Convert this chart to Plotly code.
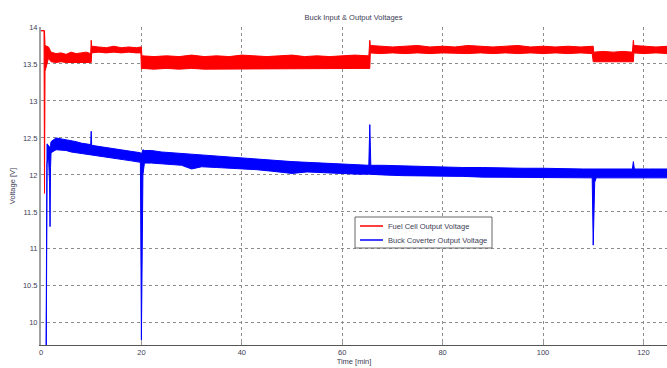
import plotly.graph_objects as go

# ---------------- data ----------------
red_time = [0, 0.6, 0.7, 0.8, 1.5, 2.0, 3, 4, 5, 6, 7, 8, 9, 9.9,
            10.0, 10.1, 11.5, 13, 14.5, 16, 17.5, 19, 19.9,
            20.0, 20.1, 22.5, 25, 27.5, 30, 32.5, 35, 37.5, 40, 42.5, 45, 47.5, 50, 52.5, 55, 57.5, 60, 62.5, 65.3,
            65.5, 65.6, 67.5, 70, 72.5, 75, 77.5, 80, 82.5, 85, 87.5, 90, 92.5, 95, 97.5, 100, 102.5, 105, 107.5, 109.8,
            110.0, 110.1, 112, 114, 116, 117.8,
            118.0, 118.1, 120, 122.5, 125]
red_upper = [13.95, 13.95, 13.95, 13.75, 13.73, 13.66, 13.64, 13.65, 13.63, 13.66, 13.64, 13.65, 13.66, 13.64,
             13.82, 13.74, 13.73, 13.72, 13.74, 13.72, 13.73, 13.72, 13.73,
             13.73, 13.61, 13.60, 13.61, 13.60, 13.62, 13.60, 13.61, 13.60, 13.62, 13.61, 13.60, 13.61, 13.62, 13.60, 13.61, 13.60, 13.61, 13.62, 13.61,
             13.82, 13.75, 13.74, 13.73, 13.74, 13.75, 13.73, 13.74, 13.73, 13.75, 13.74, 13.73, 13.74, 13.75, 13.73, 13.74, 13.73, 13.74, 13.73, 13.74,
             13.74, 13.66, 13.67, 13.66, 13.67, 13.66,
             13.82, 13.75, 13.74, 13.73, 13.74]
red_lower = [13.95, 13.95, 11.75, 13.40, 13.58, 13.53, 13.52, 13.53, 13.52, 13.52, 13.53, 13.52, 13.53, 13.52,
             13.52, 13.65, 13.66, 13.65, 13.66, 13.65, 13.66, 13.65, 13.65,
             13.43, 13.44, 13.43, 13.44, 13.43, 13.44, 13.43, 13.43, 13.44, 13.43, 13.44, 13.43, 13.44, 13.43, 13.44, 13.43, 13.44, 13.43, 13.44, 13.44,
             13.44, 13.65, 13.64, 13.65, 13.64, 13.65, 13.64, 13.65, 13.64, 13.64, 13.65, 13.64, 13.65, 13.64, 13.65, 13.64, 13.65, 13.64, 13.65, 13.64,
             13.53, 13.53, 13.54, 13.53, 13.54, 13.53,
             13.53, 13.65, 13.64, 13.65, 13.64]

blue_time = [1.0, 1.05, 1.2, 1.5, 1.7, 1.8, 1.9, 2.0, 3, 4, 5, 6, 7, 8, 9, 9.9,
             10.0, 10.1, 12, 14, 16, 18, 19.8,
             20.0, 20.3, 20.6, 22, 24, 26, 28, 30, 32, 35, 38, 40, 43, 46, 50, 53, 56, 60, 63, 65.3,
             65.5, 65.7, 68, 72, 76, 80, 84, 88, 92, 96, 100, 104, 108, 109.8,
             110.0, 110.3, 110.6, 114, 117.8,
             118.0, 118.2, 121, 125]
blue_upper = [9.5, 12.25, 12.42, 12.40, 12.38, 12.36, 12.40, 12.45, 12.50, 12.49, 12.48, 12.46, 12.45, 12.43, 12.42, 12.41,
              12.59, 12.40, 12.38, 12.36, 12.34, 12.32, 12.30,
              12.28, 12.34, 12.33, 12.33, 12.31, 12.30, 12.29, 12.27, 12.26, 12.25, 12.23, 12.22, 12.21, 12.19, 12.18, 12.17, 12.16, 12.15, 12.14, 12.13,
              12.68, 12.13, 12.13, 12.12, 12.11, 12.11, 12.10, 12.10, 12.09, 12.09, 12.09, 12.08, 12.08, 12.08,
              12.08, 12.07, 12.08, 12.08, 12.08,
              12.18, 12.08, 12.08, 12.08]
blue_lower = [9.5, 9.5, 12.15, 12.25, 11.9, 11.3, 12.1, 12.30, 12.34, 12.34, 12.33, 12.31, 12.30, 12.29, 12.28, 12.28,
              12.28, 12.27, 12.25, 12.23, 12.21, 12.19, 12.17,
              9.77, 12.0, 12.16, 12.16, 12.15, 12.14, 12.13, 12.08, 12.11, 12.10, 12.09, 12.08, 12.07, 12.05, 12.02, 12.04, 12.03, 12.02, 12.01, 12.01,
              12.01, 12.00, 12.00, 11.99, 11.99, 11.98, 11.98, 11.97, 11.97, 11.97, 11.97, 11.96, 11.96, 11.96,
              11.05, 11.9, 11.96, 11.96, 11.96,
              11.96, 11.96, 11.96, 11.96]

x_ticks = [0, 20, 40, 60, 80, 100, 120]
y_ticks = [10, 10.5, 11, 11.5, 12, 12.5, 13, 13.5, 14]
series_names = ["Fuel Cell Output Voltage", "Buck Coverter Output Voltage"]

assert len(red_time) == len(red_upper) == len(red_lower)
assert len(blue_time) == len(blue_upper) == len(blue_lower)

RED = "#ff0000"
BLUE = "#0000ff"
FONT = "Liberation Sans, Arial, sans-serif"
TXT = "#3d3d55"

fig = go.Figure()
# blue first, red on top
for t, lo, up, c in [(blue_time, blue_lower, blue_upper, BLUE), (red_time, red_lower, red_upper, RED)]:
    fig.add_trace(go.Scatter(x=t, y=lo, mode="lines", line=dict(color=c, width=1),
                             showlegend=False, hoverinfo="skip"))
    fig.add_trace(go.Scatter(x=t, y=up, mode="lines", line=dict(color=c, width=1),
                             fill="tonexty", fillcolor=c, showlegend=False, hoverinfo="skip"))

# ---- hand-made legend box (layout decoration) ----
PL, PW, PB, PH = 41, 626, 345, 318
def px(x):
    return (x - PL) / PW
def py(y):
    return (PB - y) / PH

shapes = [dict(type="rect", xref="paper", yref="paper",
               x0=px(355), x1=px(492), y0=py(248), y1=py(217),
               line=dict(color="#666666", width=1), fillcolor="white", layer="above")]
annotations = []
for i, (name, c) in enumerate(zip(series_names, [RED, BLUE])):
    yy = 226 + 14 * i
    shapes.append(dict(type="line", xref="paper", yref="paper",
                       x0=px(360), x1=px(383), y0=py(yy), y1=py(yy),
                       line=dict(color=c, width=1.5), layer="above"))
    annotations.append(dict(text=name, xref="paper", yref="paper", x=px(386), y=py(yy),
                            xanchor="left", yanchor="middle", showarrow=False,
                            font=dict(size=7.5, color=TXT, family=FONT)))

fig.update_layout(
    width=667, height=368,
    margin=dict(l=41, r=0, t=27, b=23),
    paper_bgcolor="white", plot_bgcolor="white",
    font=dict(family=FONT, size=7.5, color=TXT),
    title=dict(text="Buck Input & Output Voltages", x=0.53, xanchor="center",
               y=1 - 17 / 368, yanchor="middle", font=dict(size=7.5, color=TXT)),
    showlegend=False,
    shapes=shapes,
    annotations=annotations,
)
fig.update_xaxes(
    range=[0, 124.7], tickvals=x_ticks, ticktext=[str(v) for v in x_ticks],
    showgrid=True, gridcolor="#8c8c8c", griddash="dot", gridwidth=1,
    showline=True, linecolor="#555555", linewidth=1,
    ticks="inside", ticklen=5, tickcolor="#999999",
    zeroline=False,
    title=dict(text="Time [min]", standoff=2, font=dict(size=7.5, color=TXT)),
)
fig.update_yaxes(
    range=[9.7, 14.0], tickvals=y_ticks, ticktext=[f"{v:g}" for v in y_ticks],
    showgrid=True, gridcolor="#8c8c8c", griddash="dot", gridwidth=1,
    showline=True, linecolor="#a0a0a0", linewidth=2,
    ticks="", zeroline=False,
    title=dict(text="Voltage [V]", standoff=6, font=dict(size=7.5, color=TXT)),
)

fig.write_html("out.html")
